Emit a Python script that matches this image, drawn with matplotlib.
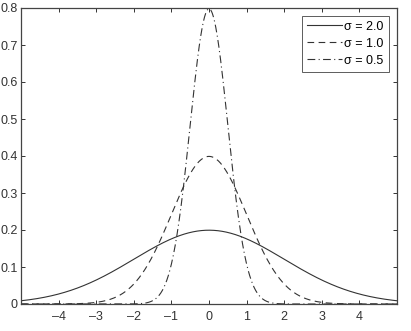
import numpy as np
import matplotlib
matplotlib.use("Agg")
import matplotlib.pyplot as plt

plt.rcParams['font.family'] = ['Liberation Sans', 'DejaVu Sans']

sigmas = [2.0, 1.0, 0.5]
labels = ["σ = 2.0", "σ = 1.0", "σ = 0.5"]
styles = ["-", (0, (6, 4)), (0, (7, 3, 1, 3))]
xticks = [-4, -3, -2, -1, 0, 1, 2, 3, 4]
yticks = [0, 0.1, 0.2, 0.3, 0.4, 0.5, 0.6, 0.7, 0.8]
yticklabels = ["0", "0.1", "0.2", "0.3", "0.4", "0.5", "0.6", "0.7", "0.8"]

x = np.linspace(-5, 5, 1001)

fig = plt.figure(figsize=(4.11, 3.31), dpi=100)
ax = fig.add_axes([21/411, 1 - 304/331, (397-21)/411, (304-8)/331])

col = "#333333"
for s, lab, ls in zip(sigmas, labels, styles):
    y = np.exp(-x**2 / (2 * s**2)) / (s * np.sqrt(2 * np.pi))
    ax.plot(x, y, color=col, lw=0.8, linestyle=ls, label=lab)

ax.set_xlim(-5, 5)
ax.set_ylim(0, 0.8)
ax.set_xticks(xticks)
ax.set_xticklabels([str(t).replace('-', '\u2013') for t in xticks])
ax.set_yticks(yticks)
ax.set_yticklabels(yticklabels)
ax.tick_params(direction='in', top=True, right=True, length=3, width=0.7,
               labelsize=9, colors=col)
ax.tick_params(axis='y', pad=2.2)
ax.tick_params(axis='x', pad=5)
for sp in ax.spines.values():
    sp.set_color("#444444")
    sp.set_linewidth(0.9)

leg = ax.legend(loc='upper right', fontsize=9, frameon=True, fancybox=False,
                edgecolor=col, handlelength=2.8, handletextpad=0.2,
                borderpad=0.4, labelspacing=0.4, borderaxespad=0.5,
                bbox_to_anchor=(0.995, 0.995))
leg.get_frame().set_linewidth(0.7)

fig.savefig("out.png", dpi=100)
